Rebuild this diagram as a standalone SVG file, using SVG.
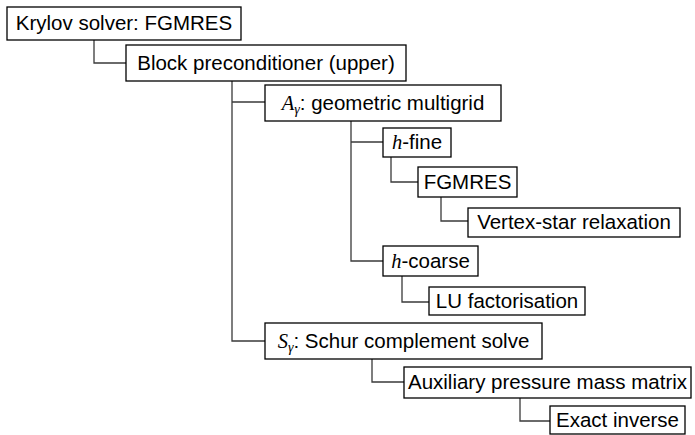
<svg xmlns="http://www.w3.org/2000/svg" width="695" height="435" viewBox="0 0 695 435">
<style>
.box{fill:#fff;stroke:#000;stroke-width:1.3}
.t{font-family:"Liberation Sans",Arial,sans-serif;font-size:20.5px;fill:#000;text-anchor:middle}
.m{font-family:"Liberation Serif","Times New Roman",serif;font-style:italic}
.c{fill:none;stroke:#3a3a3a;stroke-width:1.3}
</style>
<rect width="695" height="435" fill="#fff"/>
<g id="connectors">
<path class="c" d="M94,40V63H126"/>
<path class="c" d="M232,81V341H265M232,102H265"/>
<path class="c" d="M351,121V261H383M351,142H383"/>
<path class="c" d="M391,157V182H418"/>
<path class="c" d="M441,197V221H468"/>
<path class="c" d="M402,276V302H429"/>
<path class="c" d="M372,359V382H404"/>
<path class="c" d="M520,398V421H550"/>
</g>
<g id="krylov"><rect class="box" x="7" y="7" width="234" height="33"/><text class="t" x="124" y="30">Krylov solver: FGMRES</text></g>
<g id="block"><rect class="box" x="126" y="45" width="280" height="36"/><text class="t" x="266" y="70">Block preconditioner (upper)</text></g>
<g id="agamma"><rect class="box" x="265" y="85" width="236" height="36"/><text class="t" x="383" y="110"><tspan class="m">A</tspan><tspan class="m" font-size="14" dy="4">γ</tspan><tspan dy="-4">: geometric multigrid</tspan></text></g>
<g id="hfine"><rect class="box" x="383" y="128" width="68" height="29"/><text class="t" x="417" y="149"><tspan class="m">h</tspan>-fine</text></g>
<g id="fgmres"><rect class="box" x="418" y="167" width="99" height="30"/><text class="t" x="467.5" y="189">FGMRES</text></g>
<g id="vertex"><rect class="box" x="468" y="208" width="212" height="29"/><text class="t" x="574" y="229">Vertex-star relaxation</text></g>
<g id="hcoarse"><rect class="box" x="383" y="246" width="95" height="30"/><text class="t" x="430.5" y="268"><tspan class="m">h</tspan>-coarse</text></g>
<g id="lu"><rect class="box" x="429" y="287" width="156" height="28"/><text class="t" x="507" y="308">LU factorisation</text></g>
<g id="sgamma"><rect class="box" x="265" y="323" width="277" height="36"/><text class="t" x="403.5" y="348"><tspan class="m">S</tspan><tspan class="m" font-size="14" dy="4">γ</tspan><tspan dy="-4">: Schur complement solve</tspan></text></g>
<g id="aux"><rect class="box" x="404" y="367" width="287" height="31"/><text class="t" x="547.5" y="389">Auxiliary pressure mass matrix</text></g>
<g id="exact"><rect class="box" x="550" y="406" width="135" height="28"/><text class="t" x="617.5" y="427">Exact inverse</text></g>
</svg>
